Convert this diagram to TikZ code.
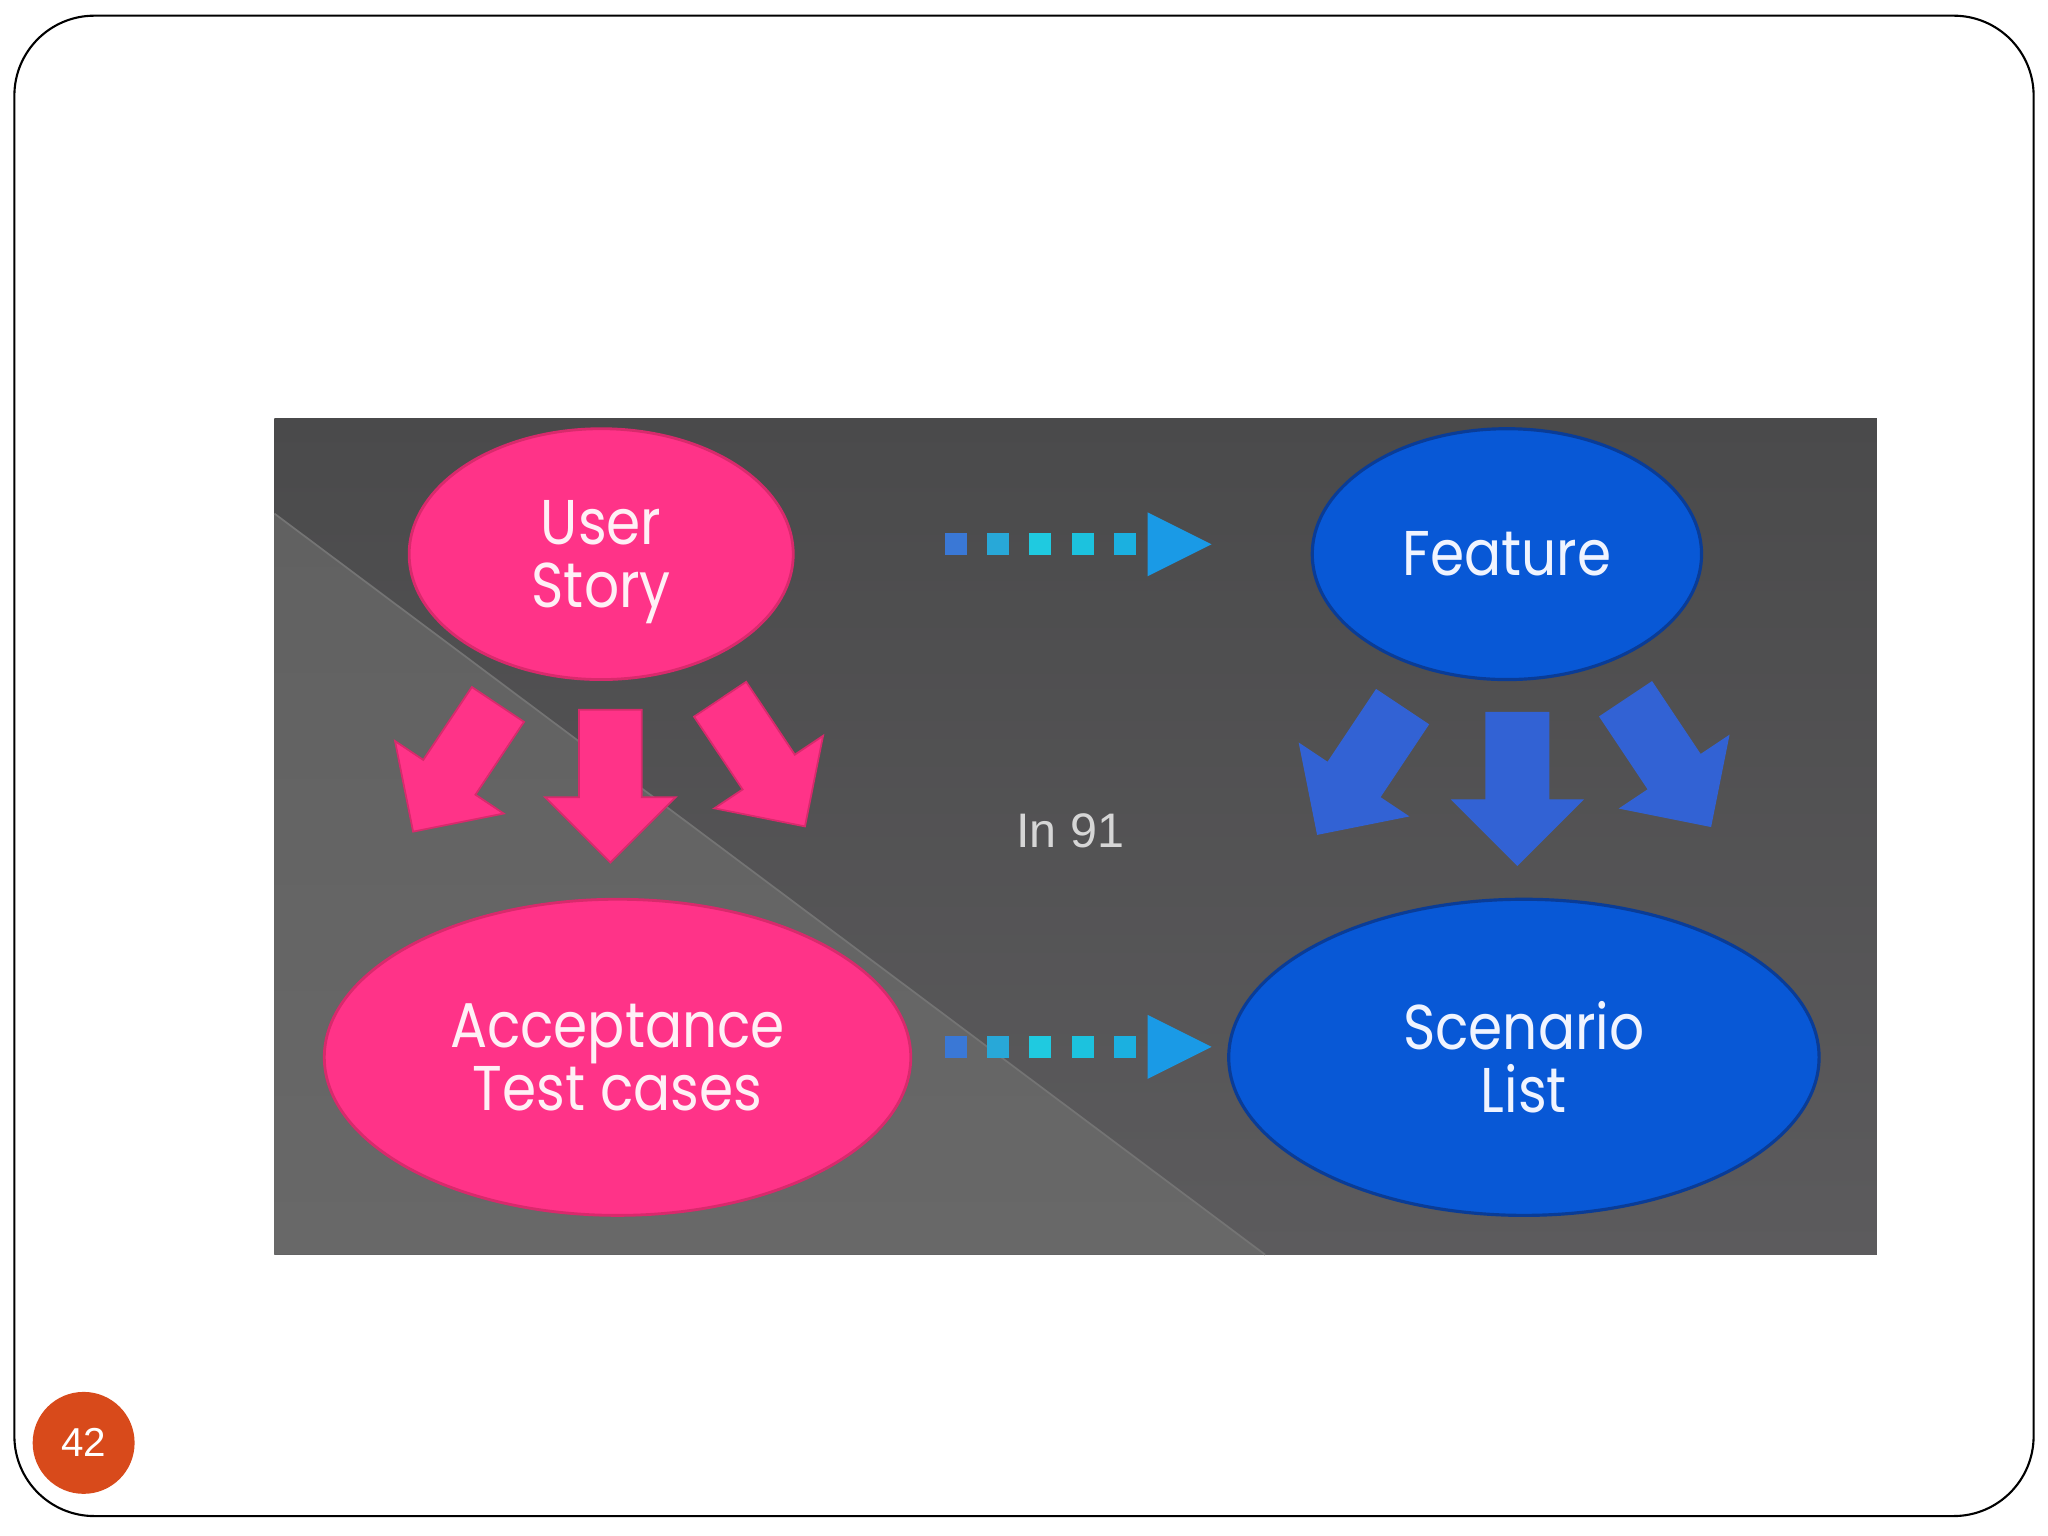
\documentclass[tikz,border=0pt]{standalone}
\usepackage{fontspec}
\setmainfont{Poppins}
\newfontfamily\gothic[FakeStretch=0.87]{Poppins}
\newfontfamily\arialf{Liberation Sans}
\usetikzlibrary{shapes.geometric}
\definecolor{pinkfill}{HTML}{FF3388}
\definecolor{pinkedge}{HTML}{D82A6C}
\definecolor{bluefill}{HTML}{0858D6}
\definecolor{blueedge}{HTML}{0A3C96}
\definecolor{bluearr}{HTML}{3262D4}
\definecolor{sqa}{HTML}{3A78D6}
\definecolor{sqb}{HTML}{28A8D8}
\definecolor{sqc}{HTML}{1FCAE0}
\definecolor{sqd}{HTML}{1CC2DE}
\definecolor{sqe}{HTML}{1BB0E0}
\definecolor{headc}{HTML}{1A9AE6}
\definecolor{paneltop}{HTML}{4A4A4B}
\definecolor{panelbot}{HTML}{5C5B5D}
\definecolor{tritop}{HTML}{616161}
\definecolor{tribot}{HTML}{686868}
\definecolor{diagline}{HTML}{747474}
\definecolor{badge}{HTML}{D84A1B}
\definecolor{intext}{HTML}{D6D6D6}
\definecolor{pinktext}{HTML}{FFF0F6}
\definecolor{bluetext}{HTML}{F0F4FF}
\begin{document}
\begin{tikzpicture}[x=0.01307cm,y=-0.01307cm,
  ell/.style={ellipse, inner sep=0pt, align=center,
    font=\gothic\fontsize{18}{18}\selectfont},
  pinkell/.style={ell, fill=pinkfill, draw=pinkedge, line width=0.8pt, text=pinktext},
  blueell/.style={ell, fill=bluefill, draw=blueedge, line width=0.9pt, text=bluetext},
  blockarr/.pic={\filldraw[pic actions] (-24,0) -- (24,0) -- (24,67) -- (50,67) -- (0,117) -- (-50,67) -- (-24,67) -- cycle;},
  pinkarr/.style={fill=pinkfill, draw=pinkedge, line width=0.5pt},
  bluearrow/.style={fill=bluearr, draw=bluearr, line width=0.3pt}
]
\useasboundingbox (0,0) rectangle (1567,1175.2);
% slide frame
\draw[line width=0.6pt, rounded corners=0.8cm] (11,12) rectangle (1556,1160);
% panel
\shade[top color=paneltop, bottom color=panelbot] (210,320) rectangle (1436,960);
\shade[top color=tritop, bottom color=tribot] (210,393) -- (968,960) -- (210,960) -- cycle;
\draw[diagline, line width=0.5pt] (210,393) -- (968,960);
% nodes
\node[pinkell, minimum width=3.843cm, minimum height=2.51cm] (us) at (460,424) {\raisebox{-2.2pt}[\height][\depth]{\parbox{2cm}{\centering User\\Story}}};
\node[blueell, minimum width=3.895cm, minimum height=2.51cm] (fe) at (1153,424) {Feature};
\node[pinkell, minimum width=5.868cm, minimum height=3.163cm] (at) at (472.5,809) {Acceptance\\Test cases};
\node[blueell, minimum width=5.907cm, minimum height=3.163cm] (sl) at (1166,809) {Scenario\\List};
% block arrows
\pic[pinkarr, rotate=-33.7] at (381,539) {blockarr};
\pic[pinkarr] at (467,543) {blockarr};
\pic[pinkarr, rotate=33.7] at (551,535) {blockarr};
\pic[bluearrow, rotate=-33.7] at (1073,541) {blockarr};
\pic[bluearrow] at (1161,545) {blockarr};
\pic[bluearrow, rotate=33.7] at (1244,535) {blockarr};
% dotted arrows
\foreach \yy in {416.5,801}{
  \foreach \xx/\cc in {723/sqa,755/sqb,787/sqc,820/sqd,852/sqe}{
    \fill[\cc] (\xx,\yy-8.5) rectangle ++(17,17);
  }
  \fill[headc] (878,\yy-24.5) -- (927,\yy) -- (878,\yy+24.5) -- cycle;
}
% label
\node[text=intext, font=\arialf\fontsize{13.8}{14}\selectfont] (in) at (819,636) {In 91};
% page badge
\node[circle, fill=badge, minimum size=1.02cm, inner sep=0pt, text=white,
  font=\arialf\fontsize{11.5}{12}\selectfont] (pg) at (64,1104) {42};
\end{tikzpicture}
\end{document}
